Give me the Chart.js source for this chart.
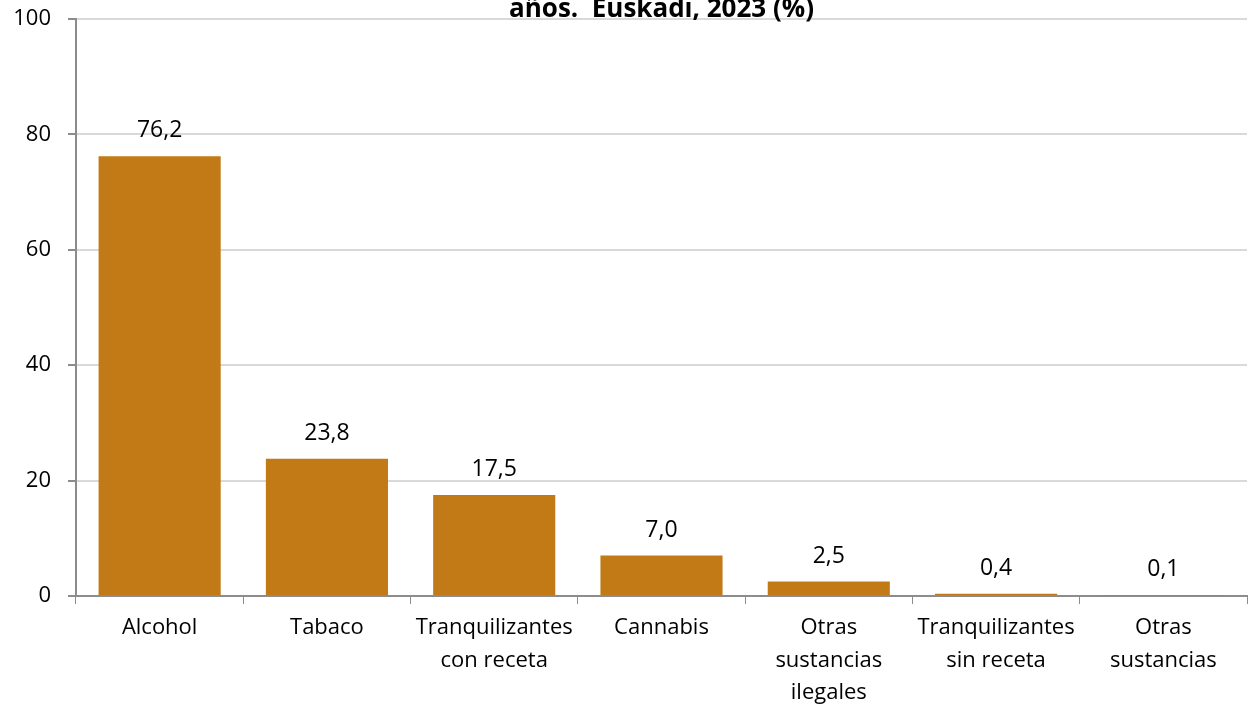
<!DOCTYPE html>
<html>
<head>
<meta charset="utf-8">
<script src="https://cdn.jsdelivr.net/npm/chart.js@4/dist/chart.umd.min.js"></script>
<style>
  html, body { margin: 0; padding: 0; background: #fff; }
  #wrap { width: 1249px; height: 705px; }
</style>
</head>
<body>
<div id="wrap"><canvas id="drugChart" width="1249" height="705"></canvas></div>
<script>
// Data
const categories = [
    'Alcohol',
    'Tabaco',
    ['Tranquilizantes', 'con receta'],
    'Cannabis',
    ['Otras', 'sustancias', 'ilegales'],
    ['Tranquilizantes', 'sin receta'],
    ['Otras', 'sustancias']
];
const values = [76.2, 23.8, 17.5, 7.0, 2.5, 0.4, 0.1];
const yTicks = [0, 20, 40, 60, 80, 100];
const titleText = 'años.  Euskadi, 2023 (%)';

const FONT = "'Open Sans', 'Noto Sans', sans-serif";

// Value labels above the bars (comma decimal)
const valueLabels = {
    id: 'valueLabels',
    afterDatasetsDraw(chart) {
        const ctx = chart.ctx;
        const meta = chart.getDatasetMeta(0);
        ctx.save();
        ctx.font = '23px ' + FONT;
        ctx.fillStyle = '#000';
        ctx.textAlign = 'center';
        ctx.textBaseline = 'alphabetic';
        meta.data.forEach((bar, i) => {
            const txt = values[i].toFixed(1).replace('.', ',');
            ctx.fillText(txt, bar.x, bar.y - 19);
        });
        ctx.restore();
    }
};

// Title: only the last line survives at the top of the picture
const cutTitle = {
    id: 'cutTitle',
    afterDraw(chart) {
        const ctx = chart.ctx;
        const area = chart.chartArea;
        ctx.save();
        ctx.font = 'bold 26px ' + FONT;
        ctx.fillStyle = '#000';
        ctx.textAlign = 'center';
        ctx.textBaseline = 'alphabetic';
        ctx.fillText(titleText, (area.left + area.right) / 2, 17);
        ctx.restore();
    }
};

new Chart(document.getElementById('drugChart'), {
    type: 'bar',
    data: {
        labels: categories,
        datasets: [{
            data: values,
            backgroundColor: '#C27A16',
            borderWidth: 0,
            barPercentage: 0.73,
            categoryPercentage: 1.0
        }]
    },
    options: {
        responsive: false,
        animation: false,
        layout: { padding: { top: 19, right: 2, bottom: 0, left: 0 } },
        plugins: {
            legend: { display: false },
            tooltip: { enabled: false }
        },
        scales: {
            x: {
                grid: {
                    display: true,
                    drawOnChartArea: false,
                    offset: true,
                    color: '#8c8c8c',
                    tickLength: 8
                },
                border: { color: '#8c8c8c', width: 2 },
                ticks: {
                    color: '#000',
                    font: { family: FONT, size: 22, lineHeight: 1.47 },
                    maxRotation: 0,
                    autoSkip: false,
                    padding: 8
                },
                afterFit(scale) {
                    scale.height = 109;
                    scale.paddingLeft = 0;
                    scale.paddingRight = 0;
                }
            },
            y: {
                min: 0,
                max: 100,
                afterBuildTicks(scale) { scale.ticks = yTicks.map(v => ({ value: v })); },
                grid: {
                    color: '#d9d9d9',
                    lineWidth: 2,
                    tickLength: 8,
                    tickColor: '#8c8c8c'
                },
                border: { color: '#8c8c8c', width: 2 },
                ticks: {
                    color: '#000',
                    font: { family: FONT, size: 22 },
                    padding: 17
                },
                afterFit(scale) {
                    scale.width = 76;
                    scale.paddingTop = 0;
                    scale.paddingBottom = 0;
                }
            }
        }
    },
    plugins: [valueLabels, cutTitle]
});
</script>
</body>
</html>
